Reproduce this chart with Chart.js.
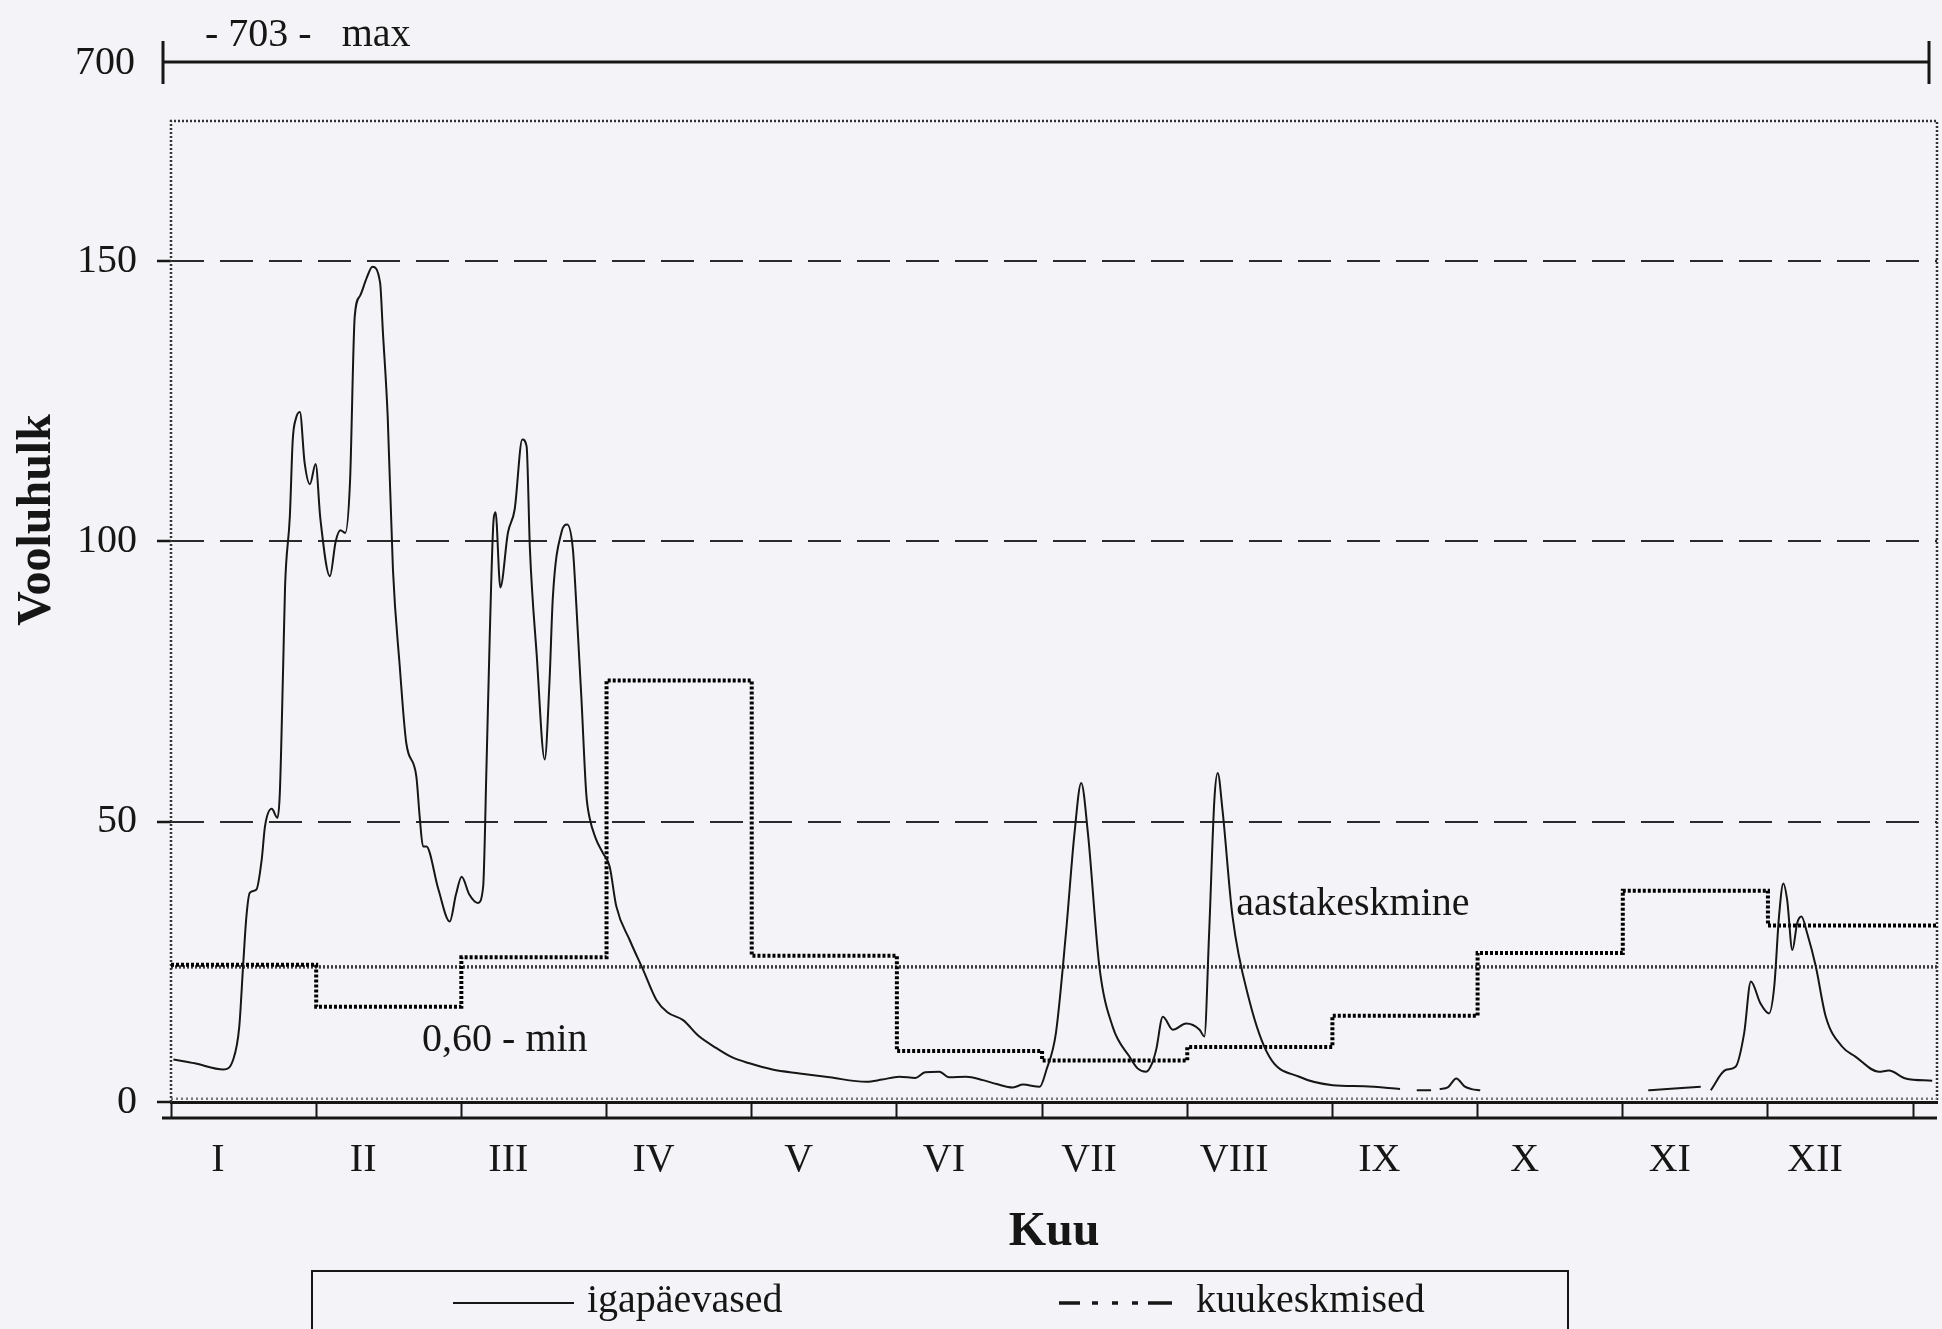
<!DOCTYPE html>
<html>
<head>
<meta charset="utf-8">
<script src="https://cdn.jsdelivr.net/npm/chart.js@4.4.1/dist/chart.umd.min.js"></script>
<style>
  body { margin: 0; background: #f4f4f8; }
  canvas { display: block; }
</style>
</head>
<body>
<canvas id="flowChart" width="1942" height="1329"></canvas>
<script>
// month labels and month boundaries (day of year)
const monthLabels = ["I", "II", "III", "IV", "V", "VI", "VII", "VIII", "IX", "X", "XI", "XII"];
const monthStarts = [0, 30.42, 60.83, 91.25, 121.67, 152.08, 182.5, 212.92, 243.33, 273.75, 304.17, 334.58, 365];
const yTickValues = [0, 50, 100, 150];

// kuukeskmised
const monthlyMean = [24.5, 17.0, 25.8, 75.2, 26.1, 9.1, 7.4, 9.8, 15.4, 26.6, 37.7, 31.5];
// aastakeskmine, min, max
const annualMean = 24.1;
const minFlow = 0.6;
const maxFlow = 703;

// igapäevased (day of year, flow); null = missing data
const dailyDay = [
  0.5, 5, 11, 13, 14.3, 15.1, 15.8, 16.5, 17.9, 19.0,
  19.7, 21.1, 22.3, 22.8, 23.5, 23.9, 24.9, 25.5, 26.2, 27.0,
  28.0, 29.1, 30.3, 31.3, 33.3, 34.5, 35.5, 36.5, 37.5, 38.5,
  39.6, 41.0, 42.2, 43.8, 44.4, 45.4, 46.5, 47.9, 49.3, 51.4,
  52.1, 52.8, 53.5, 56.0, 58.4, 59.7, 60.9, 62.5, 64.3, 65.4,
  66.1, 66.8, 67.6, 68.0, 69.0, 70.6, 72.0, 73.6, 74.5, 75.2,
  76.6, 78.3, 79.3, 80.0, 81.8, 83.0, 84.2, 84.9, 86.0, 87.0,
  87.7, 89.0, 90.5, 91.9, 93.3, 96.1, 98.9, 101.7, 104.0, 107.3,
  110.5, 114.3, 117.5, 121.2, 126.0, 131.7, 138.0, 145.7, 149.0, 152.6,
  156.0, 158.0, 161.0, 163.0, 166.6, 170.1, 173.0, 176.4, 178.5, 182.0,
  183.4, 185.4, 187.5, 189.3, 190.7, 192.1, 194.5, 197.3, 200.8, 202.5,
  204.3, 205.5, 206.4, 207.8, 209.9, 212.7, 215.5, 216.5, 217.5, 218.6,
  219.3, 220.3, 222.4, 225.9, 230.1, 236.4, 243.4, 250.0, 257.5, 259,
  261.0, 264.0, 265, 265.8, 267.5, 269.3, 271.0, 272.5, 274.3, 290,
  309.5, 315.0, 320.5, 321.5, 322.6, 325.7, 327.8, 329.6, 331.0, 333.0,
  334.8, 335.9, 336.9, 337.8, 338.6, 339.7, 340.7, 341.6, 342.8, 344.6,
  346.7, 350.1, 352.9, 357.8, 359.9, 363.4, 369.0
];
const dailyFlow = [
  7.6, 6.9, 5.8, 7.5, 13.4, 24.2, 33.1, 37.3, 37.9, 43.2,
  49.2, 52.3, 50.7, 55.1, 77.7, 92, 104.5, 118, 122, 123.1,
  114, 110.2, 113.8, 104, 93.8, 100, 102, 101.5, 110.5, 140.2,
  143.8, 147, 149.0, 146.2, 137.3, 122.3, 95, 78, 64, 58.1,
  50.9, 45.6, 45.6, 38, 32.2, 37, 40.2, 37, 35.5, 38.4,
  59.9, 83.7, 104, 105.2, 91.8, 101.6, 105.7, 118.2, 117, 98.6,
  80, 61.1, 75, 90, 101.6, 103, 98.6, 89, 71.8, 55,
  50.7, 47, 44.4, 42, 34.9, 28.9, 23.6, 18.2, 16, 14.6,
  11.8, 9.6, 8, 6.9, 5.8, 5.1, 4.4, 3.6, 4.0, 4.5,
  4.3, 5.3, 5.4, 4.4, 4.5, 3.9, 3.2, 2.6, 3.1, 2.7,
  5.7, 12.3, 30.1, 48.0, 56.9, 48.0, 24.2, 13.4, 8.1, 6,
  5.4, 6.8, 9.3, 15.2, 12.9, 14.0, 12.9, 11.7, 30.1, 53.9,
  58.7, 52.1, 33.1, 18.2, 8.1, 4.5, 3.0, 2.8, 2.3, null,
  2.1, 2.1, null, 2.3, 2.6, 4.2, 2.8, 2.3, 2.1, null,
  2.1, 2.4, 2.7, null, 2.1, 5.7, 6.3, 12.3, 21.5, 17.6,
  15.8, 20.6, 33.1, 39.0, 36.1, 27.1, 31.9, 33.1, 30.1, 24.2,
  15.2, 9.9, 8.1, 5.4, 5.6, 4.2, 3.8
];

const X_MAX = 370;
const Y_MAX = 175;
const INK = "#161616";
const SERIF = '"Liberation Serif", "DejaVu Serif", serif';
const MONTH_DASH = [3, 2];

const dailyPoints = dailyDay.map((d, i) => ({ x: d, y: dailyFlow[i] }));
const monthlyPoints = monthlyMean.map((v, i) => ({ x: monthStarts[i], y: v }));
monthlyPoints.push({ x: X_MAX, y: monthlyMean[monthlyMean.length - 1] });

// frame, broken-axis max, annotations, titles and legend
const decorations = {
  id: "decorations",
  beforeDraw(chart) {
    const ctx = chart.ctx;
    ctx.save();
    ctx.fillStyle = "#f4f4f8";
    ctx.fillRect(0, 0, chart.width, chart.height);
    ctx.restore();
  },
  beforeDatasetsDraw(chart) {
    const { ctx, chartArea: a } = chart;
    ctx.save();
    ctx.strokeStyle = "#333";
    ctx.lineWidth = 2.5;
    ctx.setLineDash([2, 2]);
    ctx.beginPath();
    ctx.moveTo(a.left, a.bottom);
    ctx.lineTo(a.left, a.top);
    ctx.lineTo(a.right, a.top);
    ctx.lineTo(a.right, a.bottom);
    ctx.stroke();
    ctx.restore();
  },
  afterDraw(chart) {
    const { ctx, chartArea: a, scales } = chart;
    const x = scales.x, y = scales.y;
    ctx.save();
    ctx.fillStyle = INK;
    ctx.strokeStyle = INK;

    // lower line of the month axis band
    ctx.lineWidth = 3;
    ctx.beginPath();
    ctx.moveTo(a.left - 9, a.bottom + 16);
    ctx.lineTo(a.right, a.bottom + 16);
    ctx.stroke();

    // broken axis: maximum above the plot
    const maxY = a.top - 59;
    ctx.lineWidth = 3;
    ctx.beginPath();
    ctx.moveTo(a.left - 8, maxY);
    ctx.lineTo(a.right - 8, maxY);
    ctx.moveTo(a.left - 8, maxY - 21);
    ctx.lineTo(a.left - 8, maxY + 22);
    ctx.moveTo(a.right - 8, maxY - 21);
    ctx.lineTo(a.right - 8, maxY + 22);
    ctx.stroke();

    ctx.font = "40px " + SERIF;
    ctx.textBaseline = "middle";
    ctx.textAlign = "right";
    ctx.fillText("700", a.left - 36, maxY + 1);
    ctx.textAlign = "left";
    ctx.fillText("- " + maxFlow + " -   max", a.left + 34, maxY - 27);

    // min / annual mean labels
    ctx.fillText(String(minFlow).replace(".", ",") + "0 - min", x.getPixelForValue(52.6), y.getPixelForValue(11));
    ctx.fillText("aastakeskmine", x.getPixelForValue(223.2), y.getPixelForValue(35.2));

    // axis titles
    ctx.font = "bold 48px " + SERIF;
    ctx.textAlign = "center";
    ctx.fillText("Kuu", (a.left + a.right) / 2, a.bottom + 131);
    ctx.save();
    ctx.translate(38, 520);
    ctx.rotate(-Math.PI / 2);
    ctx.fillText("Vooluhulk", 0, 0);
    ctx.restore();

    // legend box
    const ly = a.bottom + 201;
    ctx.lineWidth = 2;
    ctx.setLineDash([]);
    ctx.strokeRect(312, a.bottom + 169, 1256, 120);
    ctx.beginPath();
    ctx.moveTo(453, ly);
    ctx.lineTo(574, ly);
    ctx.stroke();
    ctx.lineWidth = 3.5;
    ctx.beginPath();
    ctx.moveTo(1059, ly);
    ctx.lineTo(1080, ly);
    ctx.stroke();
    ctx.setLineDash([6, 14]);
    ctx.beginPath();
    ctx.moveTo(1092, ly);
    ctx.lineTo(1140, ly);
    ctx.stroke();
    ctx.setLineDash([]);
    ctx.beginPath();
    ctx.moveTo(1148, ly);
    ctx.lineTo(1172, ly);
    ctx.stroke();
    ctx.font = "40px " + SERIF;
    ctx.textAlign = "left";
    ctx.fillText("igapäevased", 587, ly - 2);
    ctx.fillText("kuukeskmised", 1196, ly - 2);
    ctx.restore();
  }
};

new Chart(document.getElementById("flowChart"), {
  type: "line",
  data: {
    datasets: [
      {
        label: "igapäevased",
        data: dailyPoints,
        borderColor: INK,
        borderWidth: 2,
        pointRadius: 0,
        cubicInterpolationMode: "monotone",
        spanGaps: false,
        order: 1,
      },
      {
        label: "kuukeskmised",
        data: monthlyPoints,
        borderColor: "#000",
        borderWidth: 4,
        borderDash: MONTH_DASH,
        stepped: true,
        pointRadius: 0,
        order: 2,
      },
      {
        label: "aastakeskmine",
        data: [{ x: 0, y: annualMean }, { x: X_MAX, y: annualMean }],
        borderColor: "#3a3a3a",
        borderWidth: 3.5,
        borderDash: [2, 2],
        pointRadius: 0,
        order: 3,
      },
      {
        label: "min",
        data: [{ x: 0, y: minFlow }, { x: X_MAX, y: minFlow }],
        borderColor: "#777",
        borderWidth: 2.5,
        borderDash: [2, 3],
        pointRadius: 0,
        order: 4,
      },
    ],
  },
  options: {
    responsive: false,
    animation: false,
    events: [],
    layout: { padding: { top: 121, right: 5, left: 0, bottom: 0 } },
    plugins: { legend: { display: false }, tooltip: { enabled: false } },
    scales: {
      x: {
        type: "linear",
        min: 0,
        max: X_MAX,
        afterBuildTicks: (s) => { s.ticks = monthStarts.map((v) => ({ value: v })); },
        afterFit: (s) => { s.height = 227; },
        ticks: {
          autoSkip: false,
          maxRotation: 0,
          labelOffset: 47,
          padding: 18,
          color: INK,
          font: { family: SERIF, size: 40 },
          callback: (v, i) => monthLabels[i] || "",
        },
        grid: {
          drawOnChartArea: false,
          tickLength: 16,
          tickColor: INK,
          tickWidth: 2,
        },
        border: { display: true, color: INK, width: 3 },
      },
      y: {
        min: 0,
        max: Y_MAX,
        afterBuildTicks: (s) => { s.ticks = yTickValues.map((v) => ({ value: v })); },
        afterFit: (s) => { s.width = 171; },
        ticks: {
          padding: 20,
          color: INK,
          font: { family: SERIF, size: 40 },
        },
        grid: {
          color: (c) => (c.tick && c.tick.value === 0 ? "rgba(0,0,0,0)" : "#2a2a2a"),
          lineWidth: 2,
          tickLength: 14,
          tickColor: INK,
          tickWidth: 2.5,
        },
        border: { display: false, dash: [33, 16] },
      },
    },
  },
  plugins: [decorations],
});
</script>
</body>
</html>
